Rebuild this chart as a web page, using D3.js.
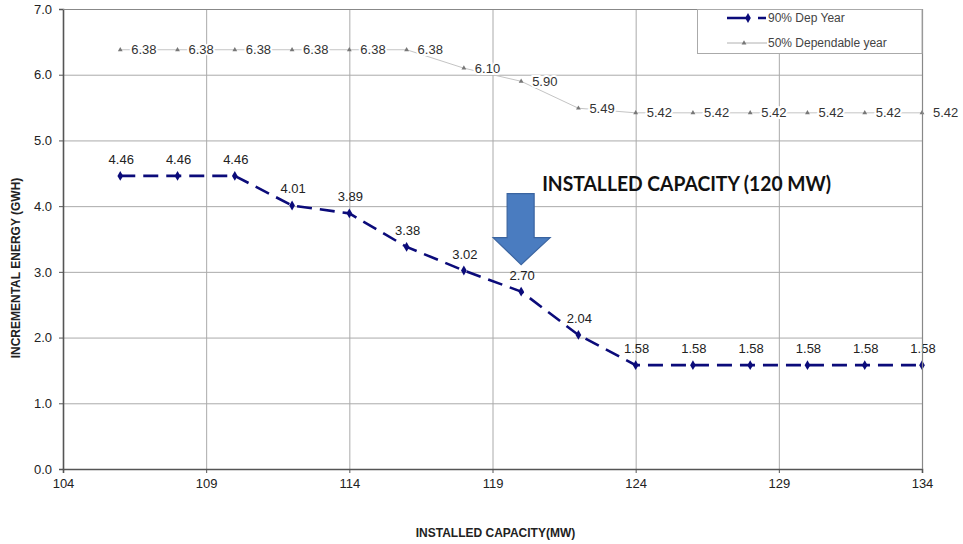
<!DOCTYPE html>
<html>
<head>
<meta charset="utf-8">
<script src="https://cdn.jsdelivr.net/npm/d3@7"></script>
<style>
  html, body { margin: 0; padding: 0; background: #ffffff; }
  svg { display: block; font-family: Arial, "Liberation Sans", sans-serif; }
</style>
</head>
<body>
<svg id="chart" width="963" height="544"></svg>
<script>
// Installed capacity (MW) for each simulated step
const capacity = [106, 108, 110, 112, 114, 116, 118, 120, 122, 124, 126, 128, 130, 132, 134];
// Incremental energy (GWh), 90% dependable year
const dep90 = [4.46, 4.46, 4.46, 4.01, 3.89, 3.38, 3.02, 2.70, 2.04, 1.58, 1.58, 1.58, 1.58, 1.58, 1.58];
// Incremental energy (GWh), 50% dependable year
const dep50 = [6.38, 6.38, 6.38, 6.38, 6.38, 6.38, 6.10, 5.90, 5.49, 5.42, 5.42, 5.42, 5.42, 5.42, 5.42];
// Axis ticks
const xTicks = [104, 109, 114, 119, 124, 129, 134];
const yTicks = [0, 1, 2, 3, 4, 5, 6, 7];
const seriesNames = ["90% Dep Year", "50% Dependable year"];
const selectedCapacity = 120;
const annotation = "INSTALLED CAPACITY (120 MW)";

const svg = d3.select("#chart");
const m = { left: 63, right: 41, top: 9, bottom: 75 };
const W = 963, H = 544;

const x = d3.scaleLinear().domain([104, 134]).range([m.left, W - m.right]);
const y = d3.scaleLinear().domain([0, 7]).range([H - m.bottom, m.top]);

// gridlines
const grid = svg.append("g").attr("stroke", "#aaaaaa").attr("stroke-width", 1);
grid.selectAll("line.h").data(yTicks.filter(d => d > 0)).join("line")
  .attr("x1", x(104)).attr("x2", x(134))
  .attr("y1", d => y(d) + 0.5).attr("y2", d => y(d) + 0.5);
grid.selectAll("line.v").data(xTicks.filter(d => d > 104)).join("line")
  .attr("y1", y(7)).attr("y2", y(0))
  .attr("x1", d => x(d) + 0.5).attr("x2", d => x(d) + 0.5);

// axes
const xAxis = svg.append("g")
  .attr("transform", `translate(0,${y(0)})`)
  .call(d3.axisBottom(x).tickValues(xTicks).tickFormat(d3.format("d")).tickSize(4).tickPadding(6));
const yAxis = svg.append("g")
  .attr("transform", `translate(${x(104)},0)`)
  .call(d3.axisLeft(y).tickValues(yTicks).tickFormat(d3.format(".1f")).tickSize(4).tickPadding(7));
[xAxis, yAxis].forEach(a => {
  a.select(".domain").attr("stroke", "#555").attr("stroke-width", 1.6);
  a.selectAll(".tick line").attr("stroke", "#555");
  a.selectAll(".tick text").attr("fill", "#222").style("font-size", "13px")
    .style("font-family", "Arial, 'Liberation Sans', sans-serif");
});

// 50% dependable year series
const pts50 = capacity.map((c, i) => ({ c, v: dep50[i] }));
svg.append("path").datum(pts50)
  .attr("fill", "none").attr("stroke", "#c4c4c4").attr("stroke-width", 1)
  .attr("d", d3.line().x(d => x(d.c)).y(d => y(d.v)));
svg.append("g").selectAll("path").data(pts50).join("path")
  .attr("d", d3.symbol(d3.symbolTriangle, 10))
  .attr("transform", d => `translate(${x(d.c)},${y(d.v)})`)
  .attr("fill", "#777");
svg.append("g").selectAll("text").data(pts50).join("text")
  .attr("x", d => x(d.c) + 11).attr("y", d => y(d.v) + 4.5)
  .attr("fill", "#333").style("font-size", "13px")
  .attr("stroke", "#fff").attr("stroke-width", 4).attr("paint-order", "stroke")
  .text(d => d.v.toFixed(2));

// 90% dependable year series
const pts90 = capacity.map((c, i) => ({ c, v: dep90[i] }));
svg.append("path").datum(pts90)
  .attr("fill", "none").attr("stroke", "#0b0b7a").attr("stroke-width", 2.6)
  .attr("stroke-dasharray", "15,8")
  .attr("d", d3.line().x(d => x(d.c)).y(d => y(d.v)));
svg.append("g").selectAll("path").data(pts90).join("path")
  .attr("d", d3.symbol(d3.symbolDiamond, 28))
  .attr("transform", d => `translate(${x(d.c)},${y(d.v)})`)
  .attr("fill", "#0b0b7a");
svg.append("g").selectAll("text").data(pts90).join("text")
  .attr("x", d => x(d.c) + 1).attr("y", d => y(d.v) - 12)
  .attr("text-anchor", "middle")
  .attr("fill", "#222").style("font-size", "13px")
  .text(d => d.v.toFixed(2));

// plot frame on the right and top
svg.append("line").attr("x1", x(134) + 0.5).attr("x2", x(134) + 0.5)
  .attr("y1", y(7)).attr("y2", y(0)).attr("stroke", "#888").attr("stroke-width", 1.2);
svg.append("line").attr("x1", x(104)).attr("x2", x(134))
  .attr("y1", y(7) + 0.5).attr("y2", y(7) + 0.5).attr("stroke", "#888").attr("stroke-width", 1.2);

// legend
const lg = svg.append("g");
lg.append("rect").attr("x", 697.5).attr("y", y(7) + 0.5).attr("width", x(134) - 697.5).attr("height", 44)
  .attr("fill", "#fff").attr("stroke", "#aaa").attr("stroke-width", 1);
lg.append("line").attr("x1", 727).attr("x2", 766).attr("y1", 18).attr("y2", 18)
  .attr("stroke", "#0b0b7a").attr("stroke-width", 2.6).attr("stroke-dasharray", "21,10");
lg.append("path").attr("d", d3.symbol(d3.symbolDiamond, 28)).attr("transform", "translate(748,18)").attr("fill", "#0b0b7a");
lg.append("line").attr("x1", 727).attr("x2", 767).attr("y1", 43).attr("y2", 43)
  .attr("stroke", "#b0b0b0").attr("stroke-width", 1);
lg.append("path").attr("d", d3.symbol(d3.symbolTriangle, 10)).attr("transform", "translate(744,43)").attr("fill", "#777");
lg.selectAll("text").data(seriesNames).join("text")
  .attr("x", 768).attr("y", (d, i) => 22 + i * 25)
  .attr("fill", "#444").style("font-size", "12px")
  .text(d => d);

// selected capacity marker: block arrow pointing at the chosen point
const ax = x(selectedCapacity);
const tipY = y(dep90[capacity.indexOf(selectedCapacity)]) - 27;
const arrow = d3.path();
arrow.moveTo(ax - 14, tipY - 71);
arrow.lineTo(ax + 13, tipY - 71);
arrow.lineTo(ax + 13, tipY - 27);
arrow.lineTo(ax + 29, tipY - 27);
arrow.lineTo(ax, tipY);
arrow.lineTo(ax - 28, tipY - 27);
arrow.lineTo(ax - 14, tipY - 27);
arrow.closePath();
svg.append("path").attr("d", arrow.toString())
  .attr("fill", "#4a7cc0").attr("stroke", "#3a64a0").attr("stroke-width", 1.2);
svg.append("text").attr("x", ax + 21).attr("y", 191)
  .attr("fill", "#111").style("font-family", "Lato, 'Open Sans', sans-serif")
  .style("font-size", "20px").style("font-weight", "bold")
  .attr("textLength", 289).attr("lengthAdjust", "spacingAndGlyphs")
  .text(annotation);

// axis titles
svg.append("text").attr("x", (x(104) + x(134)) / 2 + 3).attr("y", 537)
  .attr("text-anchor", "middle").attr("fill", "#222")
  .style("font-size", "12px").style("font-weight", "bold")
  .text("INSTALLED CAPACITY(MW)");
svg.append("text").attr("transform", `translate(20,${268}) rotate(-90)`)
  .attr("text-anchor", "middle").attr("fill", "#222")
  .style("font-size", "12px").style("font-weight", "bold")
  .text("INCREMENTAL ENERGY (GWH)");
</script>
</body>
</html>
